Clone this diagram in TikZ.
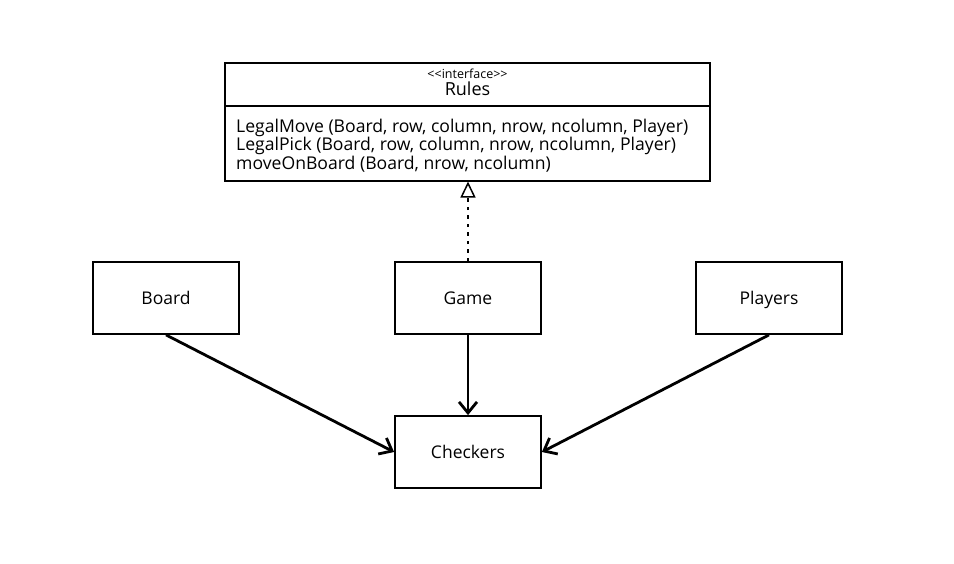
\documentclass[tikz,border=0pt]{standalone}
\usepackage{fontspec}
\setmainfont{Open Sans}
\usetikzlibrary{arrows.meta}
\begin{document}
\begin{tikzpicture}[x=1pt,y=-1pt,
  cls/.style={draw, line width=1.8pt, minimum width=146pt, minimum height=72pt, inner sep=0pt, text height=14pt, text depth=2pt, font=\fontsize{17.5}{20}\selectfont},
  assoc/.style={line width=2.8pt, -{Straight Barb[length=11pt,width=18pt,line width=2.8pt]}},
  real/.style={line width=2.8pt, dash pattern=on 3.5pt off 5pt, -{Triangle[open,length=16pt,width=15pt,line width=1.5pt]}}]
\useasboundingbox (0,0) rectangle (954,563);
% Rules interface box
\node[draw, line width=1.8pt, minimum width=485pt, minimum height=118pt, inner sep=0pt] (rules) at (467.5,122) {};
\draw[line width=1.2pt] (225,106) -- (710,106);
\node[font=\fontsize{12.5}{14}\selectfont, inner sep=0pt] (stereo) at (467.5,73.5) {<\kern0pt<interface>\kern0pt>};
\node[font=\fontsize{18}{20}\selectfont, inner sep=0pt] (rname) at (467.5,89) {Rules};
\node[anchor=north west, align=left, inner sep=0pt, font=\fontsize{17.6}{17}\selectfont] (ops) at (236,118.5) {LegalMove (Board, row, column, nrow, ncolumn, Player)\\LegalPick (Board, row, column, nrow, ncolumn, Player)\\moveOnBoard (Board, nrow, ncolumn)};
% class boxes
\node[cls] (board) at (166,298) {Board};
\node[cls] (game) at (468,298) {Game};
\node[cls] (players) at (769,298) {Players};
\node[cls] (checkers) at (468,452) {Checkers};
% connectors
\draw[assoc] (board.south) -- (checkers.west);
\draw[assoc] (players.south) -- (checkers.east);
\draw[assoc] (game.south) -- (checkers.north);
\draw[real] (game.north) -- (468,181.5);
\end{tikzpicture}
\end{document}
